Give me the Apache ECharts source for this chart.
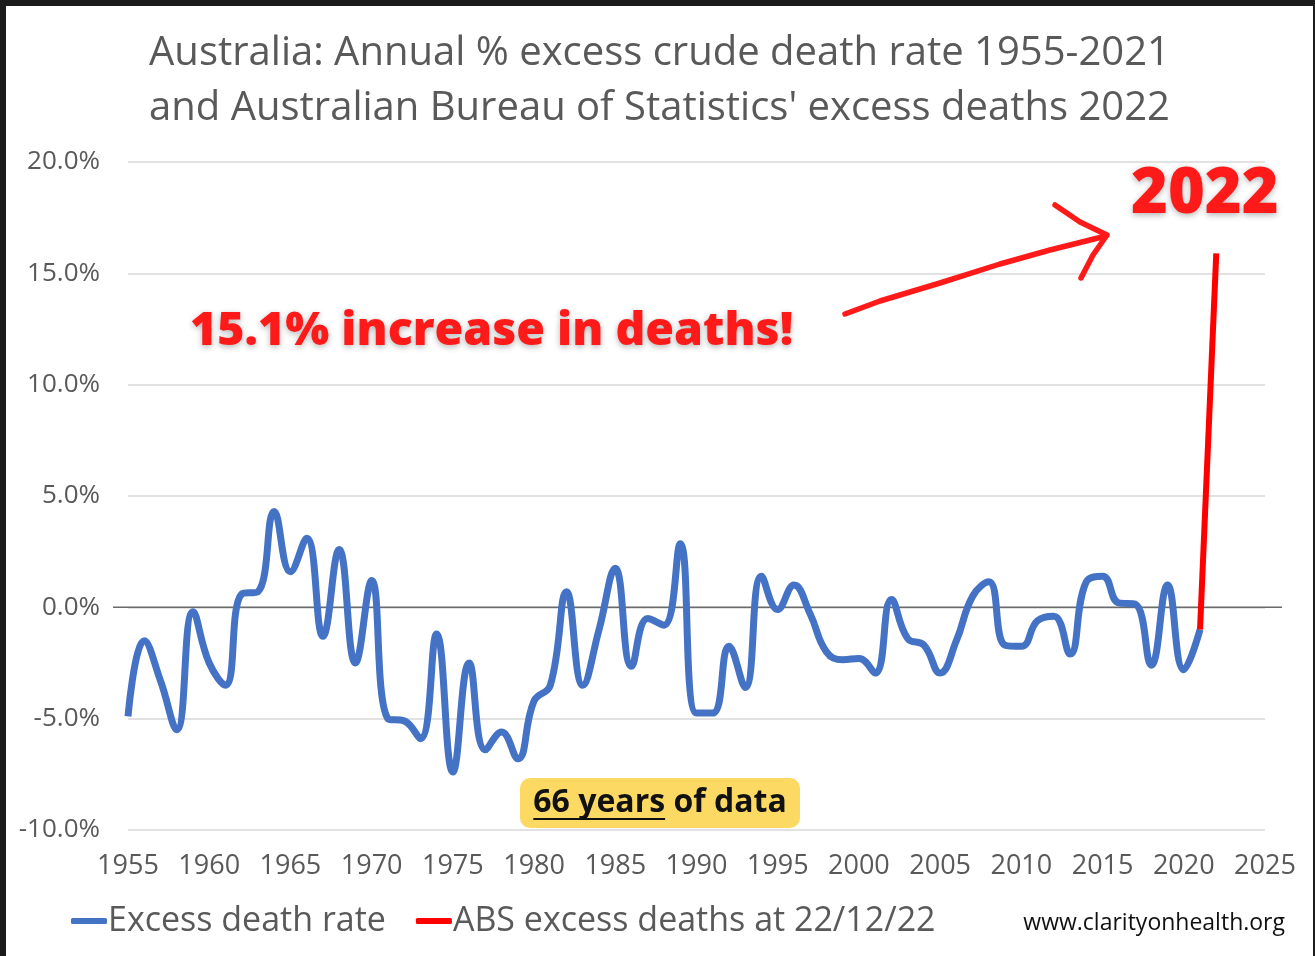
<!DOCTYPE html>
<html>
<head>
<meta charset="utf-8">
<script src="https://cdn.jsdelivr.net/npm/echarts@6/dist/echarts.min.js"></script>
<style>
  html, body { margin: 0; padding: 0; background: #1b1b1b; width: 1315px; height: 956px; overflow: hidden; }
  #chart { position: absolute; left: 6px; top: 6px; width: 1307px; height: 950px; background: #ffffff; }
</style>
</head>
<body>
<div id="chart"></div>
<script>
// ---- data ----
const years = [1955,1956,1957,1958,1959,1960,1961,1962,1963,1964,
               1965,1966,1967,1968,1969,1970,1971,1972,1973,1974,
               1975,1976,1977,1978,1979,1980,1981,1982,1983,1984,
               1985,1986,1987,1988,1989,1990,1991,1992,1993,1994,
               1995,1996,1997,1998,1999,2000,2001,2002,2003,2004,
               2005,2006,2007,2008,2009,2010,2011,2012,2013,2014,
               2015,2016,2017,2018,2019,2020,2021];
const excessRate = [-4.9,-1.5,-3.3,-5.5,-0.2,-2.5,-3.5,0.6,0.7,4.3,
                    1.6,3.1,-1.3,2.6,-2.5,1.2,-5.0,-5.1,-5.9,-1.2,
                    -7.4,-2.5,-6.4,-5.6,-6.8,-4.2,-3.5,0.7,-3.5,-1.0,
                    1.75,-2.65,-0.5,-0.8,2.85,-4.75,-4.75,-1.75,-3.6,1.4,
                    -0.1,1.0,-0.3,-2.0,-2.35,-2.3,-2.95,0.35,-1.4,-1.7,
                    -2.95,-1.5,0.5,1.15,-1.7,-1.75,-0.6,-0.4,-2.1,1.15,
                    1.4,0.2,0.15,-2.6,1.0,-2.8,-1.0];
const absYears = [2021, 2022];
const absValues = [-1.0, 15.9];
const xTicks = {min: 1955, max: 2025, interval: 5};
const yTicks = {min: -10, max: 20, interval: 5};
const seriesNames = ['Excess death rate', 'ABS excess deaths at 22/12/22'];
const titleLines = ["Australia: Annual % excess crude death rate 1955-2021",
                    "and Australian Bureau of Statistics' excess deaths 2022"];

// ---- chart ----
const O = 6; // page offset of the chart container
const chart = echarts.init(document.getElementById('chart'), null, {renderer: 'canvas'});
const baseFont = "'Open Sans', 'Noto Sans', sans-serif";
const grey = '#595959';

const option = {
  animation: false,
  backgroundColor: '#ffffff',
  grid: { left: 128 - O, right: 1313 - 1265, top: 162 - O, bottom: 956 - 830 },
  xAxis: {
    type: 'value', min: xTicks.min, max: xTicks.max, interval: xTicks.interval,
    axisLine: { show: false }, axisTick: { show: false }, splitLine: { show: false },
    axisLabel: { color: grey, fontFamily: baseFont, fontSize: 27, margin: 23, formatter: v => String(v) }
  },
  yAxis: {
    type: 'value', min: yTicks.min, max: yTicks.max, interval: yTicks.interval,
    axisLine: { show: false }, axisTick: { show: false },
    splitLine: { lineStyle: { color: '#d9d9d9', width: 1.5 } },
    axisLabel: { color: grey, fontFamily: baseFont, fontSize: 26, margin: 28, formatter: v => v.toFixed(1) + '%' }
  },
  legend: {
    left: 66 - O, top: 899 - O, itemWidth: 36, itemHeight: 6, itemGap: 30,
    icon: 'roundRect',
    textStyle: { color: grey, fontFamily: baseFont, fontSize: 34, padding: [0, 0, 0, -4] },
    data: seriesNames
  },
  series: [
    {
      name: seriesNames[0], type: 'line', smooth: 0.45, symbol: 'none', z: 3,
      lineStyle: { color: '#4472C4', width: 7 }, itemStyle: { color: '#4472C4' },
      data: years.map((y, i) => [y, excessRate[i]])
    },
    {
      name: seriesNames[1], type: 'line', smooth: false, symbol: 'none', z: 4,
      lineStyle: { color: '#ff0000', width: 6 }, itemStyle: { color: '#ff0000' },
      data: absYears.map((y, i) => [y, absValues[i]])
    }
  ]
};
chart.setOption(option);

// zero line extending a little past the plot area
const zl = chart.convertToPixel({gridIndex: 0}, [xTicks.min, 0]);
const zr = chart.convertToPixel({gridIndex: 0}, [xTicks.max, 0]);

// measure text for underline
const ctx = document.createElement('canvas').getContext('2d');
const boxFont = "bold 32px 'Open Sans', sans-serif";
ctx.font = boxFont;
const w66 = ctx.measureText('66 years').width;
const wAll = ctx.measureText('66 years of data').width;
const boxCx = 660 - O, boxCy = 803 - O;
const txtLeft = boxCx - wAll / 2;

chart.setOption({
  graphic: [
    { type: 'line', z: 1, shape: { x1: zl[0] - 15, y1: zl[1], x2: zr[0] + 17, y2: zr[1] },
      style: { stroke: '#6b6b6b', lineWidth: 1.5 } },
    { type: 'text', left: 'center', top: 26 - O, z: 10,
      style: { text: titleLines.join('\n'), fill: grey, font: "40px 'Open Sans', sans-serif",
               lineHeight: 55, textAlign: 'center' } },
    { type: 'text', x: 190 - O, y: 308 - O, z: 10,
      style: { text: '15.1% increase in deaths!', fill: '#ff1a1a',
               font: "800 46.5px 'Open Sans', sans-serif",
               textShadowColor: 'rgba(0,0,0,0.3)', textShadowBlur: 6, textShadowOffsetY: 2 } },
    { type: 'text', x: 1131 - O, y: 164 - O, z: 10,
      style: { text: '2022', fill: '#ff1a1a', font: "800 63px 'Open Sans', sans-serif",
               textShadowColor: 'rgba(0,0,0,0.3)', textShadowBlur: 6, textShadowOffsetY: 2 } },
    { type: 'polyline', z: 10,
      shape: { points: [[845 - O, 314 - O], [880 - O, 301 - O], [940 - O, 283 - O], [1000 - O, 264 - O], [1050 - O, 250 - O], [1106 - O, 236 - O]] },
      style: { stroke: '#ff1a1a', lineWidth: 5.5, lineCap: 'round', lineJoin: 'round' } },
    { type: 'polyline', z: 10,
      shape: { points: [[1055 - O, 205 - O], [1080 - O, 222 - O], [1107 - O, 235 - O], [1093 - O, 255 - O], [1081 - O, 278 - O]] },
      style: { stroke: '#ff1a1a', lineWidth: 5.5, lineCap: 'round', lineJoin: 'round' } },
    { type: 'rect', z: 10, shape: { x: 520 - O, y: 778 - O, width: 280, height: 50, r: 10 },
      style: { fill: '#fbd962' } },
    { type: 'text', z: 11, x: txtLeft, y: boxCy,
      style: { text: '66 years of data', fill: '#111', font: boxFont, textVerticalAlign: 'middle' } },
    { type: 'line', z: 11, shape: { x1: txtLeft, y1: boxCy + 16, x2: txtLeft + w66, y2: boxCy + 16 },
      style: { stroke: '#111', lineWidth: 2 } },
    { type: 'text', z: 10, x: 1285 - O, y: 923 - O,
      style: { text: 'www.clarityonhealth.org', fill: '#111', font: "23px 'Open Sans', sans-serif",
               textAlign: 'right', textVerticalAlign: 'middle' } }
  ]
});
</script>
</body>
</html>
